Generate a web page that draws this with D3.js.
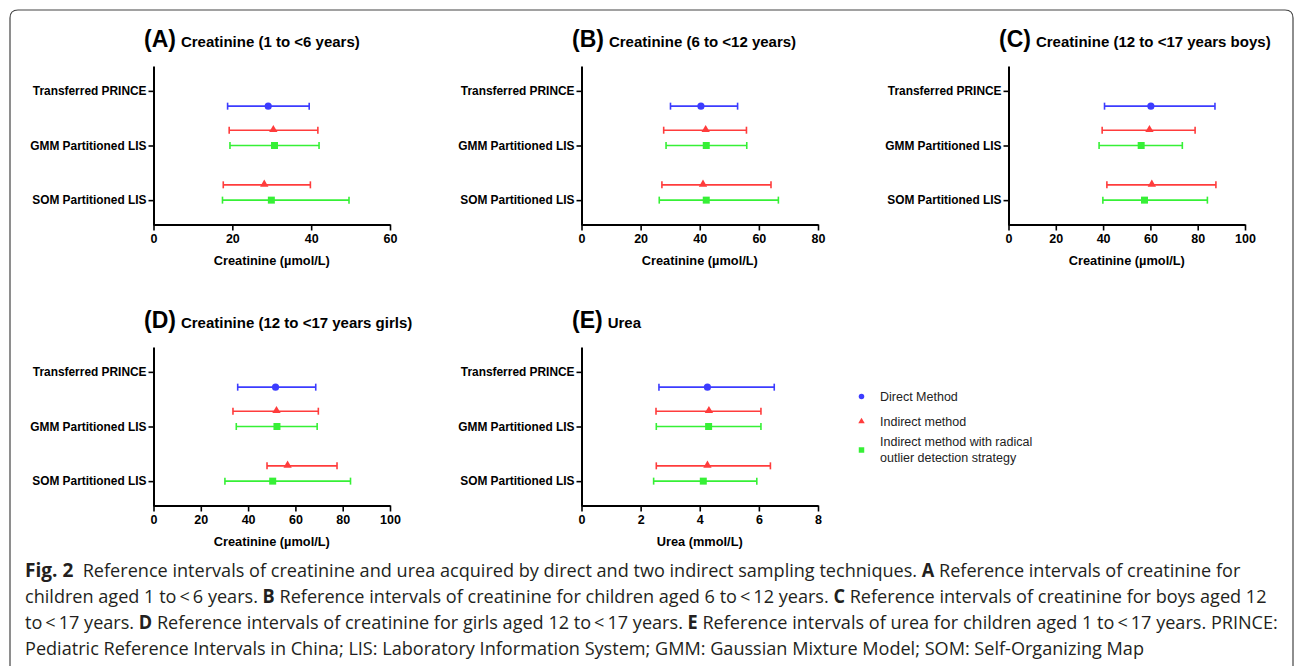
<!DOCTYPE html>
<html><head><meta charset="utf-8">
<script src="https://cdn.jsdelivr.net/npm/d3@7"></script>
<style>body{margin:0;background:#fff}svg{display:block}</style>
</head><body><svg id="c" width="1295" height="666"></svg>
<script>
// ---------- data ----------
const panelLetters = ["A", "B", "C", "D", "E"];
const panelTitles = ["Creatinine (1 to <6 years)", "Creatinine (6 to <12 years)", "Creatinine (12 to <17 years boys)", "Creatinine (12 to <17 years girls)", "Urea"];
const xAxisTitles = ["Creatinine (µmol/L)", "Creatinine (µmol/L)", "Creatinine (µmol/L)", "Creatinine (µmol/L)", "Urea (mmol/L)"];
const xDomainMax = [60, 80, 100, 100, 8];
const xTickStep = [20, 20, 20, 20, 2];
const categories = ["Transferred PRINCE", "GMM Partitioned LIS", "SOM Partitioned LIS"];
const seriesNames = ["Direct Method", "Indirect method", "Indirect method with radical outlier detection strategy"];
// each entry: [lower limit, point, upper limit], one per panel A..E
const directPRINCE = [[18.8, 29.1, 39.5], [30.1, 40.4, 52.8], [40.6, 60.2, 87.3], [35.6, 51.6, 68.6], [2.62, 4.26, 6.52]];
const indirectGMM  = [[19.2, 30.4, 41.7], [27.8, 42.0, 55.8], [39.6, 59.6, 78.9], [33.6, 52.0, 69.7], [2.52, 4.31, 6.07]];
const radicalGMM   = [[19.4, 30.7, 42.0], [28.6, 42.2, 55.9], [38.3, 56.1, 73.5], [35.0, 52.2, 69.2], [2.53, 4.30, 6.07]];
const indirectSOM  = [[17.7, 28.1, 39.8], [27.2, 41.1, 64.1], [41.6, 60.6, 87.7], [48.0, 56.7, 77.6], [2.53, 4.26, 6.39]];
const radicalSOM   = [[17.5, 29.9, 49.6], [26.3, 42.2, 66.6], [39.9, 57.5, 84.1], [30.2, 50.4, 83.3], [2.44, 4.12, 5.93]];

const captionLines = [
  [["Fig. 2", true, 20], ["  Reference intervals of creatinine and urea acquired by direct and two indirect sampling techniques. ", false], ["A", true], [" Reference intervals of creatinine for", false]],
  [["children aged 1 to\u2009<\u20096 years. ", false], ["B", true], [" Reference intervals of creatinine for children aged 6 to\u2009<\u200912 years. ", false], ["C", true], [" Reference intervals of creatinine for boys aged 12", false]],
  [["to\u2009<\u200917 years. ", false], ["D", true], [" Reference intervals of creatinine for girls aged 12 to\u2009<\u200917 years. ", false], ["E", true], [" Reference intervals of urea for children aged 1 to\u2009<\u200917 years. PRINCE:", false]],
  [["Pediatric Reference Intervals in China; LIS: Laboratory Information System; GMM: Gaussian Mixture Model; SOM: Self-Organizing Map", false]]
];

// ---------- styles / layout ----------
const colors = ["#3c3cff", "#ff3c3c", "#36f036"];
const symbols = [d3.symbolCircle, d3.symbolTriangle, d3.symbolSquare];
const symSize = [40, 30, 49];
const rowOffset = [0.28, -0.28, 0];
const colX = [153.5, 581.5, 1008.5];
const rowY = [66.5, 347.5];
const plotW = 236.5, plotH = 158;
const FONT = "'Liberation Sans', Arial, Helvetica, sans-serif";

const svg = d3.select("#c");
svg.append("rect").attr("width", 1295).attr("height", 666).attr("fill", "#fff");
// frame
svg.append("path")
  .attr("d", "M10,670 V18 Q10,10 18,10 H1285 Q1293,10 1293,18 V670")
  .attr("fill", "none").attr("stroke", "#444").attr("stroke-width", 1.2);

const seriesData = [
  { s: 0, c: 0, arr: directPRINCE },
  { s: 1, c: 1, arr: indirectGMM },
  { s: 2, c: 1, arr: radicalGMM },
  { s: 1, c: 2, arr: indirectSOM },
  { s: 2, c: 2, arr: radicalSOM }
];

panelLetters.forEach((L, i) => {
  const ox = colX[i % 3], oy = rowY[Math.floor(i / 3)];
  const g = svg.append("g").attr("transform", `translate(${ox},${oy})`).style("font-family", FONT);
  const x = d3.scaleLinear().domain([0, xDomainMax[i]]).range([0, plotW]);
  const y = d3.scaleLinear().domain([0.554, 3.446]).range([0, plotH]);

  // x axis
  const xa = g.append("g").attr("transform", `translate(0,${plotH})`)
    .call(d3.axisBottom(x).tickValues(d3.range(0, xDomainMax[i] + xTickStep[i] / 2, xTickStep[i])).tickSize(6).tickSizeOuter(0).tickPadding(4));
  xa.select(".domain").attr("stroke", "#000").attr("stroke-width", 2);
  xa.selectAll(".tick line").attr("stroke", "#000").attr("stroke-width", 1.6);
  xa.selectAll(".tick text").attr("font-size", 12.5).attr("font-weight", "bold").attr("fill", "#000").attr("font-family", FONT);

  // y axis
  const ya = g.append("g")
    .call(d3.axisLeft(y).tickValues([1, 2, 3]).tickFormat(d => categories[d - 1]).tickSize(5).tickSizeOuter(0).tickPadding(2));
  ya.select(".domain").attr("stroke", "#000").attr("stroke-width", 2)
    .attr("d", `M0.5,${y.range()[0]}V${y.range()[1] + 1}`);
  ya.selectAll(".tick line").attr("stroke", "#000").attr("stroke-width", 1.6);
  ya.selectAll(".tick text").attr("font-size", 11.9).attr("font-weight", "bold").attr("fill", "#000").attr("font-family", FONT);

  // title
  const t = g.append("text").attr("x", -9.5).attr("y", -19.5).attr("fill", "#000").attr("font-weight", "bold");
  t.append("tspan").attr("font-size", 23).text(`(${L})`);
  t.append("tspan").attr("font-size", 15).attr("dx", 5).text(panelTitles[i]);

  // axis title
  g.append("text").attr("x", plotW / 2).attr("y", plotH + 40).attr("text-anchor", "middle")
    .attr("font-size", 12.8).attr("font-weight", "bold").attr("fill", "#000").text(xAxisTitles[i]);

  // error bars
  seriesData.forEach(sd => {
    const v = sd.arr[i];
    const yy = y(sd.c + 1 + rowOffset[sd.s]);
    const col = colors[sd.s];
    const eb = g.append("g").attr("stroke", col).attr("stroke-width", 1.6).attr("fill", "none");
    eb.append("line").attr("x1", x(v[0])).attr("x2", x(v[2])).attr("y1", yy).attr("y2", yy);
    eb.append("line").attr("x1", x(v[0])).attr("x2", x(v[0])).attr("y1", yy - 3.5).attr("y2", yy + 3.5);
    eb.append("line").attr("x1", x(v[2])).attr("x2", x(v[2])).attr("y1", yy - 3.5).attr("y2", yy + 3.5);
    g.append("path").attr("d", d3.symbol(symbols[sd.s], symSize[sd.s])())
      .attr("transform", `translate(${x(v[1])},${yy + (sd.s === 1 ? -0.5 : 0)})`)
      .attr("fill", col);
  });
});

// legend
const lg = svg.append("g").attr("transform", "translate(861.5,396.5)").style("font-family", FONT);
const legendRowY = [0, 25, 53.5];
const legendSym = [24, 18, 30];
seriesNames.forEach((name, k) => {
  lg.append("path").attr("d", d3.symbol(symbols[k], legendSym[k])())
    .attr("transform", `translate(0,${legendRowY[k]})`).attr("fill", colors[k]);
  const tx = lg.append("text").attr("x", 18.5).attr("font-size", 12.5).attr("fill", "#222");
  if (k < 2) {
    tx.attr("y", legendRowY[k] + 4.3).text(name);
  } else {
    tx.append("tspan").attr("x", 18.5).attr("y", legendRowY[k] - 3.8).text("Indirect method with radical");
    tx.append("tspan").attr("x", 18.5).attr("y", legendRowY[k] + 11.8).text("outlier detection strategy");
  }
});

// caption: each line horizontally condensed by one common factor
const capBase = [577, 603, 629, 655];
const capLen = [1226, 1226, 1259];
const capNodes = captionLines.map((parts, li) => {
  const tx = svg.append("text").attr("x", 0).attr("y", 0)
    .attr("font-family", "'Open Sans', 'Noto Sans', sans-serif")
    .attr("font-size", 19).attr("fill", "#231f20")
    .style("white-space", "pre");
  parts.forEach(p => {
    const ts = tx.append("tspan").text(p[0]);
    if (p[1]) ts.attr("font-weight", "bold");
    if (p[2]) ts.attr("font-size", p[2]);
  });
  return tx;
});
const natural = capNodes.map(n => n.node().getComputedTextLength());
const ratio = d3.mean(capLen.map((len, k) => len / natural[k]));
capNodes.forEach((n, li) => {
  n.attr("transform", `translate(25,${capBase[li]}) scale(${ratio},1)`);
});
</script></body></html>
